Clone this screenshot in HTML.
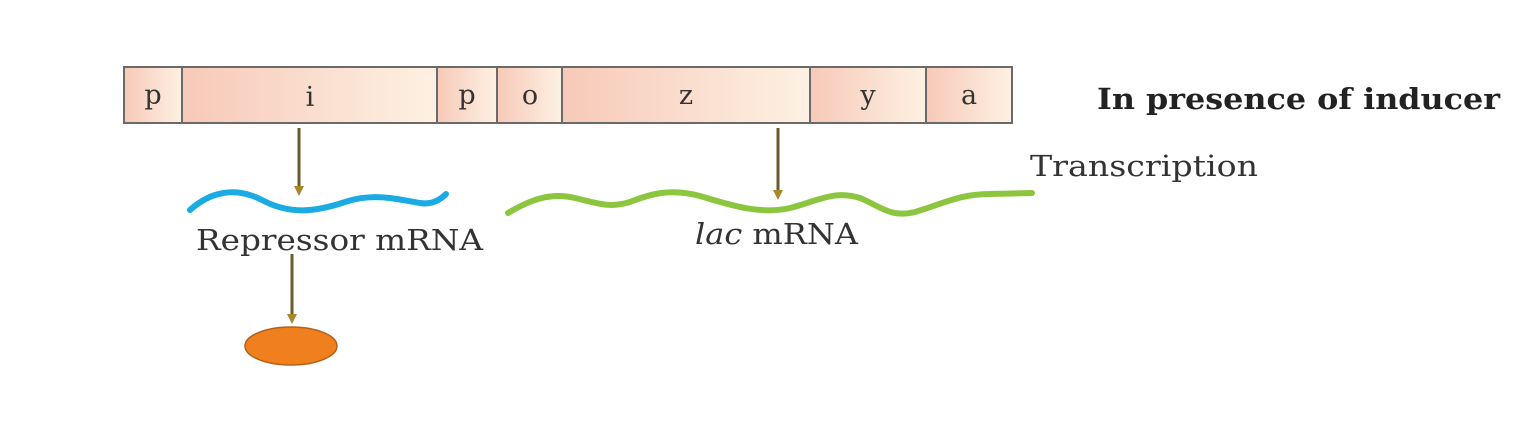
<!DOCTYPE html>
<html><head><style>
html,body{margin:0;padding:0;background:#fff;}
svg{display:block;}
</style></head><body>
<svg width="1525" height="429" viewBox="0 0 1525 429" xmlns="http://www.w3.org/2000/svg">
<defs>
<linearGradient id="g" x1="0" x2="1" y1="0" y2="0">
<stop offset="0" stop-color="#f7c9b8"/><stop offset="1" stop-color="#fdf1e3"/>
</linearGradient>
</defs>
<rect width="1525" height="429" fill="#fff"/>
<g stroke="#6a6a6a" stroke-width="2">
<rect x="124" y="67" width="58" height="56" fill="url(#g)"/>
<rect x="182" y="67" width="255" height="56" fill="url(#g)"/>
<rect x="437" y="67" width="60" height="56" fill="url(#g)"/>
<rect x="497" y="67" width="65" height="56" fill="url(#g)"/>
<rect x="562" y="67" width="248" height="56" fill="url(#g)"/>
<rect x="810" y="67" width="116" height="56" fill="url(#g)"/>
<rect x="926" y="67" width="86" height="56" fill="url(#g)"/>
</g>
<g font-family="DejaVu Serif, serif" font-size="27" fill="#333" text-anchor="middle">
<text x="153" y="104">p</text>
<text x="310" y="106">i</text>
<text x="467" y="104">p</text>
<text x="530" y="104">o</text>
<text x="686" y="104">z</text>
<text x="868" y="104">y</text>
<text x="969" y="104">a</text>
</g>
<text x="1097" y="109" font-family="DejaVu Serif, serif" font-size="29" font-weight="bold" fill="#222" textLength="403" lengthAdjust="spacingAndGlyphs">In presence of inducer</text>
<text x="1030" y="176" font-family="DejaVu Serif, serif" font-size="29" fill="#333" textLength="228" lengthAdjust="spacingAndGlyphs">Transcription</text>
<text x="196" y="250" font-family="DejaVu Serif, serif" font-size="29" fill="#333" textLength="287" lengthAdjust="spacingAndGlyphs">Repressor mRNA</text>
<text x="695" y="244" font-family="DejaVu Serif, serif" font-size="29" fill="#333" textLength="163" lengthAdjust="spacingAndGlyphs"><tspan font-style="italic">lac</tspan> mRNA</text>
<g stroke="#6b5a2a" stroke-width="3">
<line x1="299" y1="128" x2="299" y2="188"/>
<line x1="778" y1="128" x2="778" y2="192"/>
<line x1="292" y1="254" x2="292" y2="316"/>
</g>
<g fill="#a8862a">
<polygon points="294,186 304,186 299,196"/>
<polygon points="773,190 783,190 778,200"/>
<polygon points="287,314 297,314 292,324"/>
</g>
<path d="M190,210 C210,192 235,186 262,200 C290,215 315,212 345,202 C375,192 400,200 420,203 C432,205 440,200 446,194" fill="none" stroke="#1aabe2" stroke-width="6" stroke-linecap="round"/>
<path d="M508,213 C530,200 550,192 575,198 C600,204 610,208 630,202 C650,194 670,188 700,196 C730,205 760,215 790,208 C820,200 835,190 860,198 C880,206 890,218 915,212 C945,203 960,194 990,194 L1032,193" fill="none" stroke="#8cc63f" stroke-width="6" stroke-linecap="round"/>
<ellipse cx="291" cy="346" rx="46" ry="19" fill="#f07f1e" stroke="#b5601a" stroke-width="1.5"/>
</svg>
</body></html>
